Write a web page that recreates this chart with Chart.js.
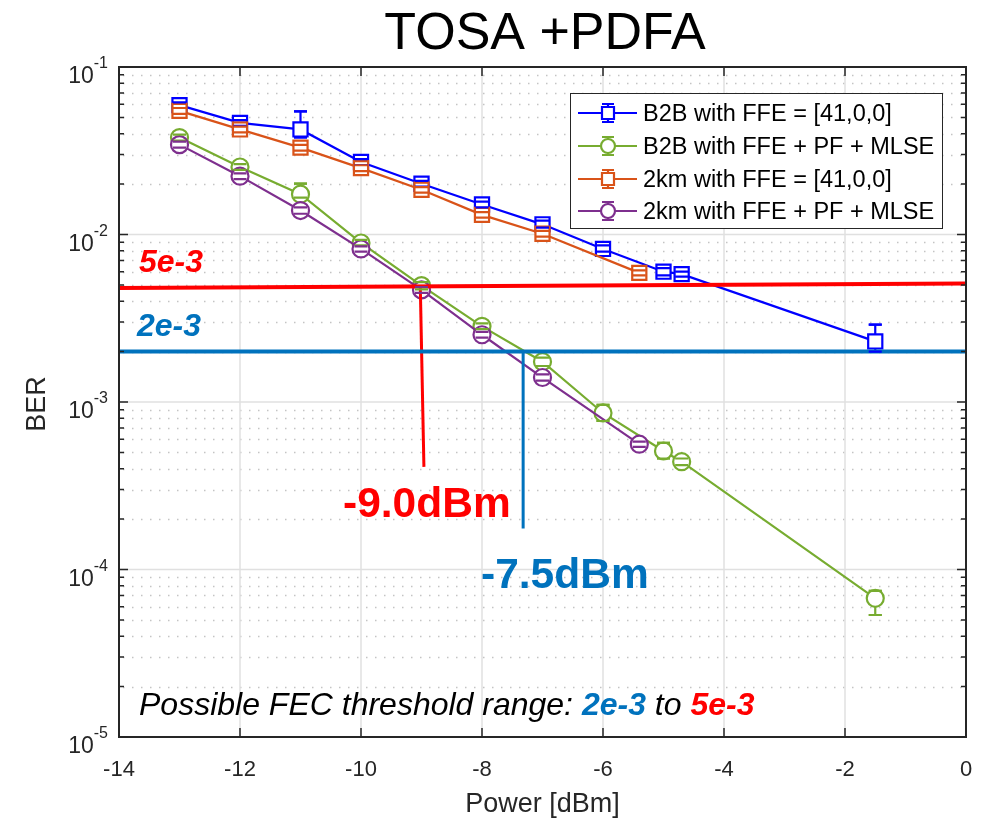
<!DOCTYPE html>
<html>
<head>
<meta charset="utf-8">
<script src="https://cdn.jsdelivr.net/npm/chart.js@4.4.0/dist/chart.umd.min.js"></script>
<style>
  html, body { margin: 0; padding: 0; background: #fff; }
</style>
</head>
<body>
<canvas id="c" width="987" height="820"></canvas>
<script>
// B2B with FFE = [41,0,0]
var b2bFfeX  = [-13, -12, -11, -10, -9, -8, -7, -6, -5, -4.7, -1.5];
var b2bFfeY  = [0.0592, 0.0464, 0.0424, 0.0271, 0.0201, 0.0151, 0.0115, 0.0082, 0.0060, 0.0058, 0.0023];
var b2bFfeHi = [0.0615, 0.0482, 0.0544, 0.0282, 0.0209, 0.0157, 0.0121, 0.0086, 0.0063, 0.0060, 0.0029];
var b2bFfeLo = [0.0569, 0.0446, 0.0380, 0.0260, 0.0193, 0.0145, 0.0110, 0.0079, 0.0057, 0.0056, 0.0020];

// B2B with FFE + PF + MLSE
var b2bMlseX  = [-13, -12, -11, -10, -9, -8, -7, -6, -5, -4.7, -1.5];
var b2bMlseY  = [0.0379, 0.0253, 0.0174, 0.0089, 0.00495, 0.00283, 0.00174, 0.00086, 0.00051, 0.00044, 0.0000673];
var b2bMlseHi = [0.0395, 0.0263, 0.0201, 0.0093, 0.0052, 0.00295, 0.00184, 0.00096, 0.00057, 0.00046, 0.0000745];
var b2bMlseLo = [0.0364, 0.0243, 0.0166, 0.0086, 0.0047, 0.00272, 0.00164, 0.00077, 0.00046, 0.00042, 0.0000535];

// 2km with FFE = [41,0,0]
var km2FfeX  = [-13, -12, -11, -10, -9, -8, -7, -5.4];
var km2FfeY  = [0.0547, 0.0424, 0.0330, 0.0249, 0.0185, 0.0131, 0.0101, 0.0059];
var km2FfeHi = [0.0569, 0.0441, 0.0343, 0.0259, 0.0192, 0.0136, 0.0105, 0.0061];
var km2FfeLo = [0.0525, 0.0407, 0.0317, 0.0239, 0.0178, 0.0126, 0.0097, 0.0057];

// 2km with FFE + PF + MLSE
var km2MlseX  = [-13, -12, -11, -10, -9, -8, -7, -5.4];
var km2MlseY  = [0.0344, 0.0223, 0.0139, 0.0082, 0.00467, 0.00252, 0.00140, 0.00056];
var km2MlseHi = [0.0358, 0.0232, 0.0145, 0.0085, 0.00486, 0.00262, 0.00146, 0.00058];
var km2MlseLo = [0.0330, 0.0214, 0.0133, 0.0079, 0.00448, 0.00242, 0.00134, 0.00054];

// FEC thresholds and the power read-offs
var redLimitX = [-14, 0];
var redLimitY = [0.0048, 0.0051];
var blueLimitX = [-14, 0];
var blueLimitY = [0.002, 0.002];
var redDropX = [-9.02, -8.96];
var redDropY = [0.0049, 0.00041];
var blueDropX = [-7.32, -7.32];
var blueDropY = [0.002, 0.000176];

var xTicks = [-14, -12, -10, -8, -6, -4, -2, 0];
var yTickExp = [-1, -2, -3, -4, -5];

var FONT = '"Liberation Sans", Arial, sans-serif';
var AXIS = '#262626';

var series = [
  { label: 'B2B with FFE = [41,0,0]',  x: b2bFfeX,  y: b2bFfeY,  hi: b2bFfeHi,  lo: b2bFfeLo,  color: '#0000FF', style: 'rect',   r: 10, order: 4 },
  { label: 'B2B with FFE + PF + MLSE', x: b2bMlseX, y: b2bMlseY, hi: b2bMlseHi, lo: b2bMlseLo, color: '#77AC30', style: 'circle', r: 8.5, order: 3 },
  { label: '2km with FFE = [41,0,0]',  x: km2FfeX,  y: km2FfeY,  hi: km2FfeHi,  lo: km2FfeLo,  color: '#D95319', style: 'rect',   r: 10, order: 2 },
  { label: '2km with FFE + PF + MLSE', x: km2MlseX, y: km2MlseY, hi: km2MlseHi, lo: km2MlseLo, color: '#7E2F8E', style: 'circle', r: 8.5, order: 1 }
];

function pts(xs, ys) {
  return xs.map(function (v, i) { return { x: v, y: ys[i] }; });
}

var datasets = series.map(function (s) {
  return {
    label: s.label,
    data: pts(s.x, s.y),
    showLine: true,
    borderColor: s.color,
    borderWidth: 2.2,
    pointStyle: s.style,
    pointRadius: s.r,
    pointBorderWidth: 2.2,
    pointBorderColor: s.color,
    pointBackgroundColor: '#fff',
    order: s.order
  };
});

function guide(xs, ys, color, w) {
  return { data: pts(xs, ys), showLine: true, borderColor: color, borderWidth: w, pointRadius: 0, order: 0 };
}
datasets.push(guide(redLimitX, redLimitY, '#FF0000', 4));
datasets.push(guide(blueLimitX, blueLimitY, '#0072BD', 4));
datasets.push(guide(redDropX, redDropY, '#FF0000', 3));
datasets.push(guide(blueDropX, blueDropY, '#0072BD', 3));

function drawErrorBars(chart, capsOnly) {
  var ctx = chart.ctx, xs = chart.scales.x, ys = chart.scales.y;
  ctx.save();
  ctx.lineWidth = 2.2;
  series.forEach(function (s) {
    ctx.strokeStyle = s.color;
    s.x.forEach(function (xv, i) {
      var px = xs.getPixelForValue(xv);
      var ph = ys.getPixelForValue(s.hi[i]);
      var pl = ys.getPixelForValue(s.lo[i]);
      ctx.beginPath();
      if (!capsOnly) { ctx.moveTo(px, ph); ctx.lineTo(px, pl); }
      ctx.moveTo(px - 6.5, ph); ctx.lineTo(px + 6.5, ph);
      ctx.moveTo(px - 6.5, pl); ctx.lineTo(px + 6.5, pl);
      ctx.stroke();
    });
  });
  ctx.restore();
}

var decor = {
  id: 'decor',
  beforeDatasetsDraw: function (chart) {
    var ctx = chart.ctx, a = chart.chartArea, xs = chart.scales.x, ys = chart.scales.y;
    ctx.save();
    // minor grid (dotted)
    ctx.strokeStyle = '#c4c4c4';
    ctx.lineWidth = 1.5;
    ctx.setLineDash([1.5, 7.5]);
    for (var e = -5; e < -1; e++) {
      for (var m = 2; m <= 9; m++) {
        var py = Math.round(ys.getPixelForValue(m * Math.pow(10, e))) + 0.5;
        ctx.beginPath(); ctx.moveTo(a.left + 4, py); ctx.lineTo(a.right, py); ctx.stroke();
      }
    }
    ctx.setLineDash([]);
    // major grid
    ctx.strokeStyle = '#e0e0e0';
    ctx.lineWidth = 1.5;
    xTicks.forEach(function (t) {
      var px = xs.getPixelForValue(t);
      ctx.beginPath(); ctx.moveTo(px, a.top); ctx.lineTo(px, a.bottom); ctx.stroke();
    });
    yTickExp.forEach(function (e) {
      var py = ys.getPixelForValue(Math.pow(10, e));
      ctx.beginPath(); ctx.moveTo(a.left, py); ctx.lineTo(a.right, py); ctx.stroke();
    });
    ctx.restore();
    drawErrorBars(chart, false);
  },
  afterDatasetsDraw: function (chart) {
    drawErrorBars(chart, true);
  },
  afterDraw: function (chart) {
    var ctx = chart.ctx, a = chart.chartArea, xs = chart.scales.x, ys = chart.scales.y;
    ctx.save();
    // axes box and ticks
    ctx.strokeStyle = AXIS;
    ctx.lineWidth = 2;
    ctx.strokeRect(a.left, a.top, a.right - a.left, a.bottom - a.top);
    ctx.lineWidth = 1.5;
    ctx.beginPath();
    xTicks.forEach(function (t) {
      var px = xs.getPixelForValue(t);
      ctx.moveTo(px, a.bottom); ctx.lineTo(px, a.bottom - 9);
      ctx.moveTo(px, a.top); ctx.lineTo(px, a.top + 9);
    });
    for (var e = -5; e <= -1; e++) {
      var py = ys.getPixelForValue(Math.pow(10, e));
      ctx.moveTo(a.left, py); ctx.lineTo(a.left + 9, py);
      ctx.moveTo(a.right, py); ctx.lineTo(a.right - 9, py);
      if (e < -1) {
        for (var m = 2; m <= 9; m++) {
          var pm = ys.getPixelForValue(m * Math.pow(10, e));
          ctx.moveTo(a.left, pm); ctx.lineTo(a.left + 5, pm);
          ctx.moveTo(a.right, pm); ctx.lineTo(a.right - 5, pm);
        }
      }
    }
    ctx.stroke();

    // tick labels
    ctx.fillStyle = AXIS;
    ctx.font = '22px ' + FONT;
    ctx.textAlign = 'center';
    ctx.textBaseline = 'alphabetic';
    xTicks.forEach(function (t) {
      ctx.fillText(String(t), xs.getPixelForValue(t), 776);
    });
    yTickExp.forEach(function (e) {
      var py = ys.getPixelForValue(Math.pow(10, e));
      ctx.font = '16px ' + FONT;
      ctx.textAlign = 'right';
      var ex = String(e);
      ctx.fillText(ex, 108, py + 1);
      var ew = ctx.measureText(ex).width;
      ctx.font = '23px ' + FONT;
      ctx.fillText('10', 108 - ew, py + 16);
    });

    // axis titles
    ctx.textAlign = 'center';
    ctx.font = '27px ' + FONT;
    ctx.fillText('Power [dBm]', (a.left + a.right) / 2, 812);
    ctx.save();
    ctx.translate(45, 404);
    ctx.rotate(-Math.PI / 2);
    ctx.fillText('BER', 0, 0);
    ctx.restore();

    // title
    ctx.fillStyle = '#000';
    ctx.font = '52px ' + FONT;
    ctx.fillText('TOSA +PDFA', 545, 49);

    // annotations
    ctx.textAlign = 'left';
    ctx.font = 'italic bold 32px ' + FONT;
    ctx.fillStyle = '#FF0000';
    ctx.fillText('5e-3', 139, 272);
    ctx.fillStyle = '#0072BD';
    ctx.fillText('2e-3', 137, 336);
    ctx.font = 'bold 42.5px ' + FONT;
    ctx.fillStyle = '#FF0000';
    ctx.fillText('-9.0dBm', 343, 517);
    ctx.fillStyle = '#0072BD';
    ctx.fillText('-7.5dBm', 481, 588);

    // FEC note
    var parts = [
      ['Possible FEC threshold range: ', 'italic', '#000'],
      ['2e-3', 'italic bold', '#0072BD'],
      [' to ', 'italic', '#000'],
      ['5e-3', 'italic bold', '#FF0000']
    ];
    var tx = 139;
    parts.forEach(function (p) {
      ctx.font = p[1] + ' 32px ' + FONT;
      ctx.fillStyle = p[2];
      ctx.fillText(p[0], tx, 715);
      tx += ctx.measureText(p[0]).width;
    });

    // legend
    var lx = 570, ly = 93, lw = 372, lh = 135;
    ctx.fillStyle = '#fff';
    ctx.fillRect(lx, ly, lw, lh);
    ctx.strokeStyle = AXIS;
    ctx.lineWidth = 1;
    ctx.strokeRect(lx + 0.5, ly + 0.5, lw, lh);
    var rows = [113, 146, 179, 211];
    series.forEach(function (s, i) {
      var ry = rows[i], cx = 608;
      ctx.strokeStyle = s.color;
      ctx.lineWidth = 2.2;
      ctx.beginPath();
      ctx.moveTo(578, ry); ctx.lineTo(637, ry);
      ctx.moveTo(cx, ry - 9); ctx.lineTo(cx, ry + 9);
      ctx.moveTo(cx - 6, ry - 9); ctx.lineTo(cx + 6, ry - 9);
      ctx.moveTo(cx - 6, ry + 9); ctx.lineTo(cx + 6, ry + 9);
      ctx.stroke();
      ctx.fillStyle = '#fff';
      ctx.beginPath();
      if (s.style === 'rect') {
        ctx.rect(cx - 6, ry - 6, 12, 12);
      } else {
        ctx.arc(cx, ry, 7, 0, Math.PI * 2);
      }
      ctx.fill();
      ctx.stroke();
      ctx.fillStyle = '#000';
      ctx.font = '23.5px ' + FONT;
      ctx.fillText(s.label, 643, ry + 8);
    });
    ctx.restore();
  }
};

new Chart(document.getElementById('c'), {
  type: 'scatter',
  data: { datasets: datasets },
  options: {
    responsive: false,
    animation: false,
    layout: { padding: { left: 119, right: 21, top: 67, bottom: 83 } },
    scales: {
      x: { type: 'linear', min: -14, max: 0, display: false },
      y: { type: 'logarithmic', min: 1e-5, max: 1e-1, display: false }
    },
    plugins: { legend: { display: false }, tooltip: { enabled: false } }
  },
  plugins: [decor]
});
</script>
</body>
</html>
